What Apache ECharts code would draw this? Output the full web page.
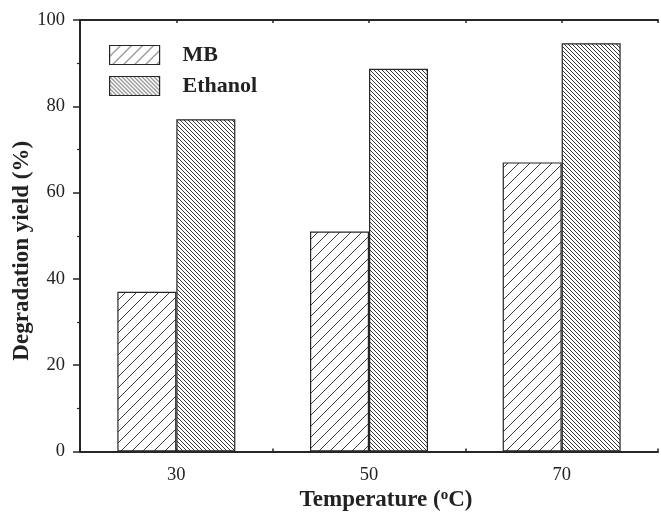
<!DOCTYPE html>
<html>
<head>
<meta charset="utf-8">
<script src="https://cdn.jsdelivr.net/npm/echarts@6/dist/echarts.min.js"></script>
<style>
  html, body { margin: 0; padding: 0; background: #fff; }
  #chart { width: 661px; height: 517px; }
</style>
</head>
<body>
<div id="chart"></div>
<script>
// Degradation yield at each temperature
const temperatures = [30, 50, 70];
const mbYield = [37, 51, 67];
const ethanolYield = [77, 88.7, 94.6];
const seriesNames = ['MB', 'Ethanol'];
const xTickLabels = [30, 50, 70];
const yTickLabels = [0, 20, 40, 60, 80, 100];

const FONT = '"Liberation Serif", "Times New Roman", serif';
const INK = '#262626';

// Diagonal hatch tile: '/' or '\' lines repeating every `period` px
function hatch(period, dir, lw) {
  const c = document.createElement('canvas');
  c.width = period; c.height = period;
  const g = c.getContext('2d');
  g.fillStyle = '#fff';
  g.fillRect(0, 0, period, period);
  g.strokeStyle = '#3a3a3a';
  g.lineWidth = lw;
  g.beginPath();
  for (let k = -1; k <= 1; k++) {
    if (dir === '/') {
      g.moveTo(k * period, period);
      g.lineTo(k * period + period, 0);
    } else {
      g.moveTo(k * period, 0);
      g.lineTo(k * period + period, period);
    }
  }
  g.stroke();
  return { image: c, repeat: 'repeat' };
}

const mbFill = hatch(11, '/', 1);
const ethFill = hatch(4, '\\', 1);

const pairs = (vals) => temperatures.map((t, i) => [t, vals[i]]);

const chart = echarts.init(document.getElementById('chart'), null, { renderer: 'canvas' });

chart.setOption({
  animation: false,
  backgroundColor: '#fff',
  // the frame runs past the right edge of the canvas
  grid: { left: 80, top: 20, width: 587, height: 438, containLabel: false },
  legend: {
    orient: 'vertical',
    left: 109, top: 44, padding: 0,
    icon: 'rect',
    itemWidth: 50, itemHeight: 19, itemGap: 9,
    data: seriesNames,
    textStyle: { fontFamily: FONT, fontSize: 22, fontWeight: 'bold', color: '#222', padding: [0, 0, 0, 18] },
    itemStyle: { borderColor: INK, borderWidth: 1.2 }
  },
  xAxis: [{
    type: 'value', min: 20, max: 80, interval: 10,
    position: 'bottom',
    name: 'Temperature ({sup|o}C)',
    nameLocation: 'middle', nameGap: 36, nameMoveOverlap: false,
    nameTextStyle: {
      fontFamily: FONT, fontSize: 23, fontWeight: 'bold', color: '#222',
      padding: [0, 0, 0, 34],
      rich: {
        sup: { fontFamily: FONT, fontSize: 15, fontWeight: 'bold', color: '#222', padding: [0, 0, 11, 0] }
      }
    },
    axisLine: { lineStyle: { color: INK, width: 2 } },
    axisTick: { inside: true, length: 3, lineStyle: { color: INK, width: 1.5 } },
    axisLabel: {
      margin: 14, fontFamily: FONT, fontSize: 18.5, color: '#222',
      formatter: (v) => (xTickLabels.indexOf(v) >= 0 ? String(v) : '')
    },
    splitLine: { show: false }
  }, {
    type: 'value', min: 20, max: 80, interval: 10,
    position: 'top',
    axisLine: { lineStyle: { color: INK, width: 2 } },
    axisTick: { inside: true, length: 3, lineStyle: { color: INK, width: 1.5 } },
    axisLabel: { show: false },
    splitLine: { show: false }
  }],
  yAxis: {
    type: 'value', min: 0, max: 100, interval: 20,
    name: 'Degradation yield (%)',
    nameLocation: 'middle', nameGap: 46, nameRotate: 90, nameMoveOverlap: false,
    nameTextStyle: {
      fontFamily: FONT, fontSize: 23, fontWeight: 'bold', color: '#222',
      padding: [0, 30, 0, 0]
    },
    axisLine: { show: true, lineStyle: { color: INK, width: 2 } },
    axisTick: { show: true, inside: false, length: 7, lineStyle: { color: INK, width: 1.5 } },
    minorTick: { show: true, splitNumber: 2, length: 3, lineStyle: { color: INK, width: 1.2 } },
    axisLabel: {
      margin: 15, fontFamily: FONT, fontSize: 18.5, color: '#222',
      formatter: (v) => (yTickLabels.indexOf(v) >= 0 ? String(v) : '')
    },
    splitLine: { show: false }
  },
  series: [{
    name: seriesNames[0],
    type: 'bar',
    xAxisIndex: 0,
    barWidth: 59,
    barGap: '0%',
    data: pairs(mbYield),
    itemStyle: { color: mbFill, borderColor: INK, borderWidth: 1.2 }
  }, {
    name: seriesNames[1],
    type: 'bar',
    xAxisIndex: 0,
    barWidth: 59,
    barGap: '0%',
    data: pairs(ethanolYield),
    itemStyle: { color: ethFill, borderColor: INK, borderWidth: 1.2 }
  }]
});
</script>
</body>
</html>
